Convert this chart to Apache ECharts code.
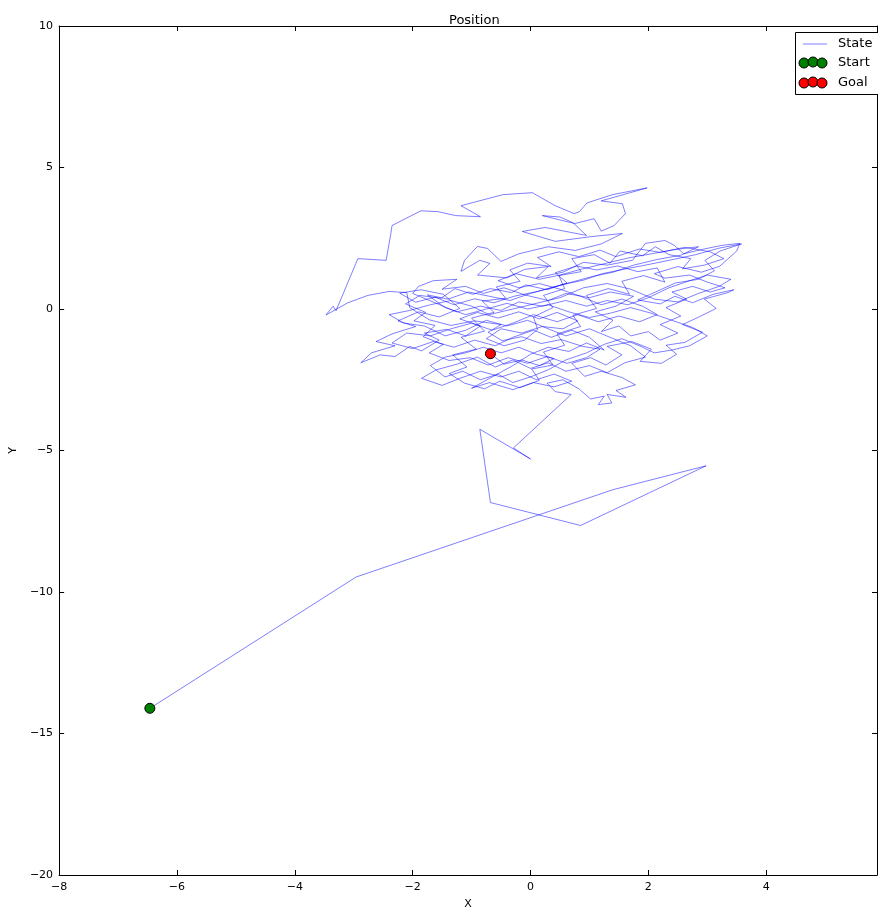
<!DOCTYPE html>
<html>
<head>
<meta charset="utf-8">
<script src="https://cdn.jsdelivr.net/npm/echarts@6/dist/echarts.min.js"></script>
<style>
  html, body { margin: 0; padding: 0; background: #ffffff; }
  #chart { width: 878px; height: 915px; }
</style>
</head>
<body>
<div id="chart"></div>
<script>
// ---- data ----
const titleText = 'Position';
const xAxisName = 'X';
const yAxisName = 'Y';
const xRange = [-8, 5.88];
const yRange = [-20, 10];
const startPoint = [-6.46, -14.11];
const goalPoint = [-0.68, -1.58];
const legendNames = ['State', 'Start', 'Goal'];

const approachPath = [
  [-6.46,-14.11],[-2.96,-9.47],[1.39,-6.39],[2.98,-5.54],[0.85,-7.65],[-0.68,-6.84],
  [-0.86,-4.25],[0.0,-5.3],[-0.29,-4.91],[0.69,-3.02]
];
const cloudPath1 = [
  [0.42,-2.92],[0.28,-2.62],[0.55,-2.5],[0.82,-2.82],[1.02,-3.18],[1.25,-3.08],[1.15,-3.38],
  [1.38,-3.32],[1.3,-3.02],[1.62,-3.12],[1.45,-2.88],[1.78,-2.68],[1.55,-2.42],[1.2,-2.2],
  [0.92,-2.38],[0.7,-1.92],[1.02,-1.72],[1.28,-1.98],[1.55,-1.62],[1.3,-1.32],[1.72,-1.15],
  [2.05,-1.42],[1.86,-1.85],[2.22,-1.92],[2.48,-1.6],[2.3,-1.28],[2.62,-1.18],[2.92,-0.82],
  [2.58,-0.55],[2.86,-0.28],[3.15,0.02],[2.95,0.35],[3.35,0.58],[3.45,0.68],[3.1,0.52],
  [2.75,0.22],[2.45,0.45],[2.2,0.18],[1.82,0.32],[2.12,0.6],[2.46,0.92],[2.85,1.05],
  [3.12,1.35],[2.96,1.72],[3.22,2.05],[3.58,2.3],[3.2,2.15],[2.8,1.92],[2.42,1.75],
  [2.02,1.58],[1.62,1.42],[1.22,1.25],[0.9,1.02],[0.52,0.85],[0.12,0.62],[-0.28,0.45],
  [-0.62,0.22],[-0.95,0.36],[-1.3,0.15],[-1.62,0.42],[-1.95,0.24],[-2.22,0.56],[-1.86,0.68],
  [-1.48,0.52]
];
const cloudPath2 = [
  [-1.2,0.02],[-1.55,-0.28],[-1.9,-0.1],[-2.25,-0.42],[-1.95,-0.62],[-2.35,-0.88],[-2.62,-1.15],
  [-2.3,-1.3],[-2.7,-1.55],[-2.88,-1.9],[-2.55,-1.62],[-2.3,-1.68],[-2.05,-1.32],[-1.85,-1.48],
  [-1.55,-1.1],[-1.8,-0.85],[-1.42,-0.72],[-1.1,-0.95],[-0.85,-0.6],[-1.2,-0.35],[-0.9,-0.12],
  [-0.55,-0.32],[-0.2,-0.1],[0.15,-0.35],[0.45,-0.12],[0.8,-0.42],[0.55,-0.7],[0.2,-0.62],
  [-0.15,-0.85],[-0.5,-0.7],[-0.75,-1.05],[-0.45,-1.3],[-0.1,-1.1]
];
const cloudPath4 = [
  [0.12,-0.72],[0.05,-0.28],[0.38,0.05],[0.22,0.48],[0.58,0.72],[0.48,1.18],[0.86,1.32],
  [0.7,1.78],[1.08,1.92],[1.35,1.62],[1.52,2.05],[1.9,1.88],[2.12,2.2],[2.35,1.92],
  [2.72,1.78],[2.58,1.42],[2.95,1.55],[3.28,1.78],[3.05,2.02],[2.62,2.18],[2.2,2.0],
  [1.85,2.12],[1.45,1.85],[1.18,2.08],[0.82,1.85],[0.48,2.02],[0.12,1.82],[0.35,1.5],
  [-0.05,1.62],[-0.35,1.38],[-0.18,0.98],[-0.58,0.78],[-0.42,0.38],[-0.82,0.28],[-0.62,-0.12],
  [-1.0,-0.32],[-0.78,-0.78],[-1.18,-1.0],[-0.92,-1.42],[-1.32,-1.62],[-1.08,-2.05],[-1.38,-2.28],
  [-1.12,-2.62],[-0.78,-2.82],[-0.52,-2.55],[-0.18,-2.78],[0.15,-2.52],[0.02,-2.12],[0.38,-1.98],
  [0.22,-1.52],[0.58,-1.28],[0.45,-0.88],[0.85,-0.62],[0.72,-0.22],[1.12,0.02],[0.95,0.48],
  [1.32,0.72],[1.68,0.52],[1.55,0.98],[1.92,1.18],[2.28,0.95],[2.15,1.45],[1.82,1.32],
  [1.48,1.52],[1.12,1.38],[0.78,1.52],[0.42,1.28],[0.62,0.92],[0.28,0.68],[-0.08,0.85],
  [-0.32,0.58],[-0.68,0.72],[-0.98,0.52],[-1.28,0.72],[-1.52,0.38],[-1.88,0.48],[-2.12,0.18],
  [-1.78,-0.12],[-1.98,-0.42],[-1.62,-0.58],[-1.82,-0.98],[-1.48,-1.25],[-1.72,-1.55],[-1.38,-1.82],
  [-1.02,-1.72],[-0.72,-1.98],[-0.38,-1.72],[-0.05,-1.92],[0.28,-1.68],[0.62,-1.92],[0.95,-1.72],
  [1.18,-1.42],[0.88,-1.32],[0.52,-1.08],[0.18,-1.22],[-0.15,-0.98],[-0.48,-1.12],[-0.72,-0.82]
];
const cloudPath3 = [
  [-0.5,-0.55],[-0.95,-0.42],[-1.35,-0.58],[-1.72,-0.38],[-2.05,0.05],[-2.1,0.58],[-2.4,0.62],
  [-2.76,0.48],[-3.1,0.22],[-3.47,-0.21],[-3.35,0.1],[-3.3,-0.06],[-2.93,1.78],[-2.45,1.72],
  [-2.37,2.67],[-2.35,2.95],[-1.86,3.47],[-1.57,3.44],[-1.27,3.3],[-0.85,3.26],[-1.18,3.65],
  [-0.47,4.04],[0.03,4.11],[0.42,3.65],[0.74,3.37],[0.83,3.44],[0.96,3.75],[1.39,4.04],
  [1.98,4.28],[1.2,3.82],[1.56,3.72],[1.61,3.37],[1.42,2.95],[1.2,2.75],[1.08,3.19],
  [0.75,3.02],[0.2,3.3],[0.5,3.25],[0.72,3.05],[0.95,2.6],[0.25,2.88],[-0.14,2.74],
  [0.42,2.39],[1.0,2.55],[1.56,2.67],[1.2,2.3],[0.76,2.07],[0.3,2.2],[-0.2,1.95],
  [-0.5,1.68],[-0.64,1.96],[-0.73,2.14],[-0.9,2.21],[-1.12,1.72],[-1.18,1.33],[-0.86,1.72],
  [-0.69,1.61],[-0.9,1.2],[-0.4,1.1],[-0.1,1.4],[0.3,1.5],[0.1,1.1],[0.55,1.3],
  [0.9,1.65],[1.3,1.55],[1.73,1.72],[1.95,2.32],[2.28,2.42],[2.44,2.25],[2.6,1.95],
  [2.9,2.1],[3.25,2.25],[3.55,2.32],[3.5,2.05],[3.21,1.51],[2.9,1.3],[2.5,1.5],
  [2.1,1.25],[2.28,1.09],[2.7,1.2],[3.0,0.95],[3.3,0.75],[3.05,0.6],[2.75,0.8],
  [2.4,0.6],[2.65,0.35],[2.3,0.05],[2.55,-0.25],[2.2,-0.55],[2.5,-0.85],[2.2,-1.1],
  [2.0,-0.8],[1.7,-0.95],[1.5,-0.6],[1.2,-0.8],[1.4,-0.4],[1.1,-0.1],[1.45,0.1],
  [1.75,0.45],[1.35,0.6],[1.0,0.4],[0.6,0.55],[0.3,0.3],[-0.1,0.5],[-0.45,0.75],
  [-0.8,0.55],[-1.1,0.8],[-1.5,0.7],[-1.25,1.05],[-1.65,1.0],[-1.9,0.8],[-2.0,0.55],
  [-1.6,0.2],[-1.25,-0.1],[-0.85,0.1],[-0.5,-0.05],[-0.2,0.25],[0.2,0.1],[0.6,0.3],
  [0.95,0.1],[1.3,0.3],[1.65,0.15],[2.0,0.4],[2.35,0.75],[2.7,1.0],[3.0,1.2],
  [3.4,1.05],[3.2,0.8],[2.85,0.55],[2.5,0.25],[2.1,0.35],[1.7,0.7],[1.3,0.9],
  [0.9,0.75],[0.5,0.4],[0.1,0.2],[-0.3,0.0],[-0.7,-0.2],[-1.0,0.1],[-1.35,0.3],
  [-1.7,0.15],[-2.05,-0.05],[-2.4,-0.2],[-2.15,-0.5],[-1.8,-0.6],[-1.45,-0.95],[-1.1,-0.75],
  [-0.75,-0.4],[-0.4,-0.6],[-0.05,-0.4],[0.3,-0.7],[0.6,-0.95],[1.0,-0.7],[1.35,-1.0],
  [1.7,-1.3],[1.95,-1.7],[1.6,-1.9],[1.3,-2.25],[1.0,-2.0],[0.6,-2.2],[0.3,-1.9],
  [0.0,-2.1],[-0.3,-1.8],[-0.6,-2.05],[-0.9,-1.7],[-1.25,-1.95],[-1.6,-2.15],[-1.85,-2.45],
  [-1.5,-2.7],[-1.2,-2.45],[-0.85,-2.2],[-0.5,-2.4],[-0.2,-2.2],[0.1,-2.5],[0.4,-2.3],
  [0.7,-2.55],[0.4,-2.75],[0.05,-2.6],[-0.3,-2.85],[-0.7,-2.6],[-1.0,-2.8],[-0.65,-2.4],
  [-0.3,-2.0],[0.0,-1.6],[0.3,-1.35],[0.65,-1.5],[0.95,-1.2],[1.25,-1.45],[1.0,-1.0],
  [0.7,-0.75],[0.35,-1.0],[0.05,-0.75],[-0.3,-1.0],[-0.6,-1.3],[-0.95,-1.1],[-1.3,-1.35],
  [-1.65,-1.15],[-2.0,-1.4],[-2.35,-1.2],[-2.1,-0.85],[-1.7,-0.95],[-1.35,-0.7],[-1.0,-0.5],
  [-0.65,-0.75],[-0.3,-0.5],[0.05,-0.2],[0.45,-0.45],[0.8,-0.2],[1.15,-0.45],[1.5,-0.25],
  [1.85,-0.45],[2.15,-0.2],[1.9,0.1],[1.55,0.35],[1.2,0.15],[0.85,0.45],[0.5,0.7],
  [0.15,0.9],[-0.2,0.75],[-0.55,1.0],[-0.25,1.25],[0.15,1.05],[0.5,1.2],[0.85,1.4],
  [1.25,1.6],[1.65,1.8],[2.05,1.95],[2.45,2.1],[2.85,2.2],[2.55,1.9],[2.15,1.75],
  [1.75,1.55],[1.4,1.3],[1.05,1.15],[0.7,0.95],[0.35,0.75],[0.0,0.55],[-0.35,0.3],
  [-0.7,0.45],[-1.05,0.6],[-1.4,0.35],[-1.75,0.5],[-1.45,0.05],[-1.1,-0.2],[-0.75,0.0],
  [-0.4,0.2],[-0.05,0.0],[0.3,0.15],[0.65,-0.1],[1.0,-0.3],[1.35,-0.15],[1.7,0.05],
  [2.05,-0.15],[2.4,-0.4],[2.75,-0.65],[3.0,-0.95],[2.7,-1.3],[2.4,-1.45],[2.1,-1.55],
  [1.85,-1.3],[1.55,-1.05],[1.25,-1.25],[0.95,-1.55],[0.6,-1.8],[0.3,-2.15],[0.0,-2.4],
  [-0.3,-2.6],[-0.55,-2.3],[-0.85,-2.5],[-1.15,-2.2],[-1.45,-2.4],[-1.7,-2.0],[-1.45,-1.7],
  [-1.1,-1.55],[-0.8,-1.35],[-0.5,-1.55],[-0.2,-1.35],[0.1,-1.6],[0.4,-1.75],[0.15,-2.0],
  [-0.15,-1.8],[-0.45,-1.95],[-0.68,-1.58]
];
const statePath = approachPath.concat(cloudPath1, cloudPath2, cloudPath4, cloudPath3);

// ---- chart ----
const FONT = 'DejaVu Sans';
const chart = echarts.init(document.getElementById('chart'), null, { renderer: 'canvas' });

const axisCommon = {
  axisLine: { show: true, onZero: false, lineStyle: { color: '#000', width: 1 } },
  axisTick: { show: true, inside: true, length: 5, lineStyle: { color: '#000', width: 1 } },
  splitLine: { show: false },
  minorTick: { show: false }
};
const minusFmt = v => (v < 0 ? '\u2212' + Math.abs(v) : String(v));

const option = {
  backgroundColor: '#ffffff',
  animation: false,
  title: {
    text: titleText,
    left: 444, top: 9,
    textStyle: { fontFamily: FONT, fontSize: 13, fontWeight: 'normal', color: '#000' }
  },
  grid: { left: 56, top: 26, right: 1, bottom: 34, containLabel: false },
  xAxis: [
    Object.assign({}, axisCommon, {
      type: 'value', position: 'bottom', min: xRange[0], max: xRange[1], interval: 2,
      name: xAxisName, nameLocation: 'middle', nameGap: 24,
      nameTextStyle: { fontFamily: FONT, fontSize: 11, color: '#000' },
      axisLabel: { show: true, margin: 7, showMaxLabel: false, fontFamily: FONT, fontSize: 11, color: '#000',
        formatter: minusFmt }
    }),
    Object.assign({}, axisCommon, {
      type: 'value', position: 'top', min: xRange[0], max: xRange[1], interval: 2,
      axisLabel: { show: false }
    })
  ],
  yAxis: [
    Object.assign({}, axisCommon, {
      type: 'value', position: 'left', min: yRange[0], max: yRange[1], interval: 5,
      name: yAxisName, nameLocation: 'middle', nameGap: 36, nameRotate: 90,
      nameTextStyle: { fontFamily: FONT, fontSize: 11, color: '#000' },
      axisLabel: { show: true, margin: 6, fontFamily: FONT, fontSize: 11, color: '#000',
        formatter: minusFmt }
    }),
    Object.assign({}, axisCommon, {
      type: 'value', position: 'right', min: yRange[0], max: yRange[1], interval: 5,
      axisLabel: { show: false }
    })
  ],
  series: [
    {
      name: legendNames[0], type: 'line', data: statePath, xAxisIndex: 0, yAxisIndex: 0,
      showSymbol: false, symbol: 'none', smooth: false,
      lineStyle: { color: 'rgba(0,0,255,0.5)', width: 1 }, z: 2
    },
    {
      name: legendNames[1], type: 'scatter', data: [startPoint], symbol: 'circle', symbolSize: 10,
      itemStyle: { color: '#008000', borderColor: '#000', borderWidth: 1, opacity: 1 }, z: 5
    },
    {
      name: legendNames[2], type: 'scatter', data: [goalPoint], symbol: 'circle', symbolSize: 10,
      itemStyle: { color: '#ff0000', borderColor: '#000', borderWidth: 1, opacity: 1 }, z: 5
    }
  ],
  graphic: [
    { type: 'rect', shape: { x: 795.5, y: 32.5, width: 90, height: 62 },
      style: { fill: '#fff', stroke: '#000', lineWidth: 1 }, z: 100 },
    { type: 'line', shape: { x1: 803, y1: 44, x2: 827, y2: 44 },
      style: { stroke: 'rgba(0,0,255,0.5)', lineWidth: 1 }, z: 101 },
    { type: 'text', x: 838, y: 44, style: { text: legendNames[0], font: '13px "DejaVu Sans"', fill: '#000', textVerticalAlign: 'middle', verticalAlign: 'middle' }, z: 101 },
    { type: 'circle', shape: { cx: 804, cy: 63, r: 5 }, style: { fill: '#008000', stroke: '#000', lineWidth: 1 }, z: 101 },
    { type: 'circle', shape: { cx: 813, cy: 62, r: 5 }, style: { fill: '#008000', stroke: '#000', lineWidth: 1 }, z: 102 },
    { type: 'circle', shape: { cx: 822, cy: 63, r: 5 }, style: { fill: '#008000', stroke: '#000', lineWidth: 1 }, z: 103 },
    { type: 'text', x: 838, y: 63, style: { text: legendNames[1], font: '13px "DejaVu Sans"', fill: '#000', textVerticalAlign: 'middle', verticalAlign: 'middle' }, z: 101 },
    { type: 'circle', shape: { cx: 804, cy: 83, r: 5 }, style: { fill: '#ff0000', stroke: '#000', lineWidth: 1 }, z: 101 },
    { type: 'circle', shape: { cx: 813, cy: 82, r: 5 }, style: { fill: '#ff0000', stroke: '#000', lineWidth: 1 }, z: 102 },
    { type: 'circle', shape: { cx: 822, cy: 83, r: 5 }, style: { fill: '#ff0000', stroke: '#000', lineWidth: 1 }, z: 103 },
    { type: 'text', x: 838, y: 83, style: { text: legendNames[2], font: '13px "DejaVu Sans"', fill: '#000', textVerticalAlign: 'middle', verticalAlign: 'middle' }, z: 101 }
  ]
};
chart.setOption(option);
</script>
</body>
</html>
